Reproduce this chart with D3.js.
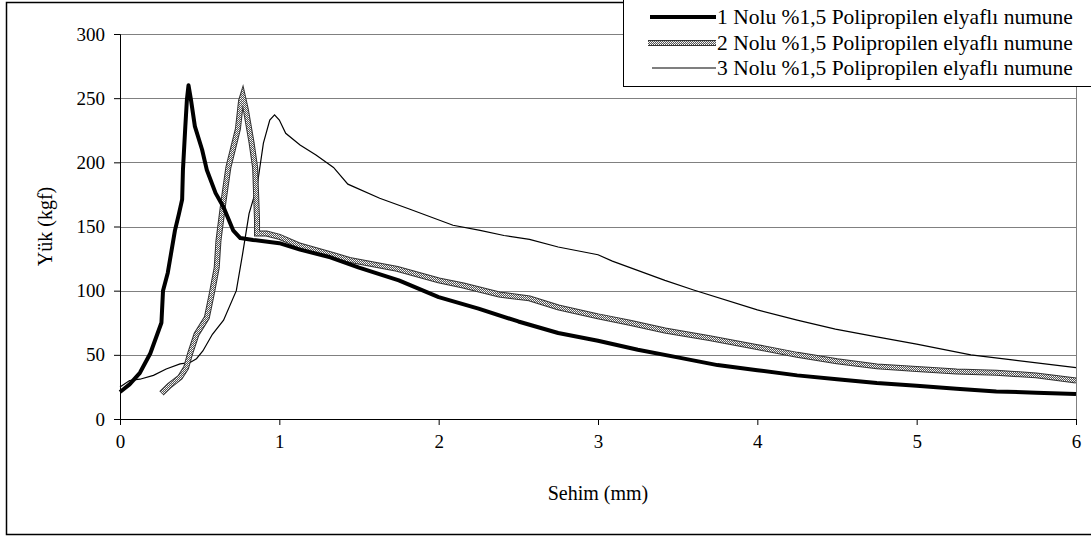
<!DOCTYPE html>
<html>
<head>
<meta charset="utf-8">
<script src="https://cdnjs.cloudflare.com/ajax/libs/d3/7.8.5/d3.min.js"></script>
<style>
  body { margin: 0; background: #fff; }
  svg { display: block; }
  svg text { font-family: "Liberation Serif", "Times New Roman", serif; fill: #000; }
</style>
</head>
<body>
<svg></svg>
<script>
// values: [sehim (mm), yük (kgf)]
const series1 = [[0,21],[0.02,23],[0.06,27],[0.125,36],[0.19,51],[0.26,75],[0.27,100],[0.30,114],[0.345,147],[0.37,160],[0.39,171],[0.395,194],[0.41,228],[0.42,249],[0.43,260],[0.445,249],[0.47,228],[0.515,210],[0.545,194],[0.60,176],[0.65,165],[0.71,147],[0.755,141],[0.835,139.5],[1.0,137],[1.13,132],[1.32,126],[1.5,118],[1.75,108],[2.0,95],[2.25,86],[2.5,76],[2.75,67],[3.0,61],[3.25,54],[3.5,48],[3.75,42],[4,38],[4.25,34],[4.5,31],[4.75,28],[5,26],[5.25,23.5],[5.5,21.5],[5.75,20.5],[6,19.5]];
const series2 = [[0.26,20],[0.31,26],[0.377,32.5],[0.415,40],[0.44,51],[0.48,66],[0.545,79],[0.575,97],[0.607,118],[0.618,139],[0.65,170],[0.68,196],[0.71,211],[0.74,226],[0.76,248],[0.77,252],[0.79,241],[0.826,215],[0.848,196],[0.854,176],[0.86,155],[0.86,144.5],[0.92,144.5],[1.0,142],[1.13,135],[1.34,127.6],[1.44,124],[1.74,117],[2.0,108],[2.155,104],[2.38,97],[2.57,94],[2.75,87],[3,80],[3.2,75],[3.42,69],[3.7,63],[4,56],[4.25,50],[4.5,45],[4.75,41],[5,39],[5.25,37],[5.5,36],[5.75,34],[6,30]];
const series3 = [[0,25],[0.06,30],[0.125,31],[0.21,34],[0.29,39],[0.377,43],[0.44,44],[0.48,47],[0.52,53],[0.58,66],[0.65,77],[0.73,100],[0.77,129],[0.81,160],[0.86,181],[0.90,215],[0.94,233],[0.97,237],[1.0,233],[1.04,222.6],[1.13,213.5],[1.23,205.7],[1.34,196],[1.43,183],[1.63,172],[1.82,163.4],[2.09,151],[2.26,147],[2.41,143],[2.57,140],[2.75,134],[3,128],[3.09,123],[3.42,108],[3.6,100.5],[4,85],[4.25,77],[4.49,70],[4.75,64],[5,58.4],[5.34,50],[5.6,46],[6,40]];

const seriesNames = [
    "1 Nolu %1,5 Polipropilen elyaflı numune",
    "2 Nolu %1,5 Polipropilen elyaflı numune",
    "3 Nolu %1,5 Polipropilen elyaflı numune"
];
const xTicks = [0, 1, 2, 3, 4, 5, 6];
const yTicks = [0, 50, 100, 150, 200, 250, 300];

const W = 1091, H = 538;
const margin = { top: 34, right: 15, bottom: 119, left: 120 };
const width = W - margin.left - margin.right;
const height = H - margin.top - margin.bottom;
const serif = "'Liberation Serif', 'Times New Roman', serif";

const svg = d3.select("svg").attr("width", W).attr("height", H);

// checkered paint for the second curve
const defs = svg.append("defs");
const pat = defs.append("pattern")
    .attr("id", "checker")
    .attr("patternUnits", "userSpaceOnUse")
    .attr("width", 2).attr("height", 2);
pat.append("rect").attr("width", 2).attr("height", 2).attr("fill", "#555");
pat.append("rect").attr("width", 1).attr("height", 1).attr("fill", "#fff");
pat.append("rect").attr("x", 1).attr("y", 1).attr("width", 1).attr("height", 1).attr("fill", "#ddd");

// outer chart border
svg.append("rect")
    .attr("x", 6.5).attr("y", 2.5)
    .attr("width", 1100).attr("height", 532)
    .attr("fill", "none").attr("stroke", "#000").attr("stroke-width", 1.5);

const g = svg.append("g")
    .attr("transform", "translate(" + margin.left + "," + margin.top + ")");

const x = d3.scaleLinear().domain([0, 6]).range([0, width]);
const y = d3.scaleLinear().domain([0, 300]).range([height, 0]);

// grid
g.selectAll("line.grid")
    .data(yTicks.filter(d => d > 0))
    .enter().append("line")
    .attr("class", "grid")
    .attr("x1", 0).attr("x2", width)
    .attr("y1", d => Math.round(y(d)) + 0.5).attr("y2", d => Math.round(y(d)) + 0.5)
    .attr("stroke", "#808080").attr("stroke-width", 1);

g.append("line")
    .attr("x1", width + 0.5).attr("x2", width + 0.5)
    .attr("y1", 0).attr("y2", height)
    .attr("stroke", "#808080");

// axes
const xAxis = g.append("g")
    .attr("transform", "translate(0," + height + ")")
    .call(d3.axisBottom(x).tickValues(xTicks).tickSize(6).tickPadding(10).tickFormat(d3.format("d")));
const yAxis = g.append("g")
    .call(d3.axisLeft(y).tickValues(yTicks).tickSize(6).tickPadding(9).tickFormat(d3.format("d")));
[xAxis, yAxis].forEach(a => {
    a.attr("font-family", serif).attr("font-size", 19);
    a.select(".domain").attr("stroke", "#000");
    a.selectAll(".tick line").attr("stroke", "#000");
});

// curves
const line = d3.line().x(d => x(d[0])).y(d => y(d[1]));

g.append("path").datum(series3)
    .attr("d", line).attr("fill", "none")
    .attr("stroke", "#000").attr("stroke-width", 1.2);

g.append("path").datum(series2)
    .attr("d", line).attr("fill", "none")
    .attr("stroke", "#333").attr("stroke-width", 6);
g.append("path").datum(series2)
    .attr("d", line).attr("fill", "none")
    .attr("stroke", "url(#checker)").attr("stroke-width", 4);

g.append("path").datum(series1)
    .attr("d", line).attr("fill", "none")
    .attr("stroke", "#000").attr("stroke-width", 4)
    .attr("stroke-linejoin", "round");

// axis titles
svg.append("text")
    .attr("x", margin.left + width / 2).attr("y", 500)
    .attr("text-anchor", "middle")
    .attr("font-size", 20)
    .text("Sehim (mm)");

svg.append("text")
    .attr("transform", "translate(52," + (margin.top + height / 2) + ") rotate(-90)")
    .attr("text-anchor", "middle")
    .attr("font-size", 20)
    .text("Yük (kgf)");

// legend
const legend = svg.append("g");
legend.append("rect")
    .attr("x", 623.5).attr("y", -1)
    .attr("width", 480).attr("height", 87.5)
    .attr("fill", "#fff").attr("stroke", "#000").attr("stroke-width", 1);

const rowY = [17, 43, 68];
seriesNames.forEach((name, i) => {
    const ly = rowY[i];
    if (i === 1) {
        legend.append("line").attr("x1", 648).attr("x2", 716).attr("y1", ly).attr("y2", ly)
            .attr("stroke", "#333").attr("stroke-width", 6);
        legend.append("line").attr("x1", 648).attr("x2", 716).attr("y1", ly).attr("y2", ly)
            .attr("stroke", "url(#checker)").attr("stroke-width", 4);
    } else {
        legend.append("line").attr("x1", i === 0 ? 650 : 652).attr("x2", 716).attr("y1", ly).attr("y2", ly)
            .attr("stroke", "#000").attr("stroke-width", i === 0 ? 4 : 1.2);
    }
    legend.append("text")
        .attr("x", 717).attr("y", ly + 7)
        .attr("font-size", 21.5)
        .text(name);
});
</script>
</body>
</html>
